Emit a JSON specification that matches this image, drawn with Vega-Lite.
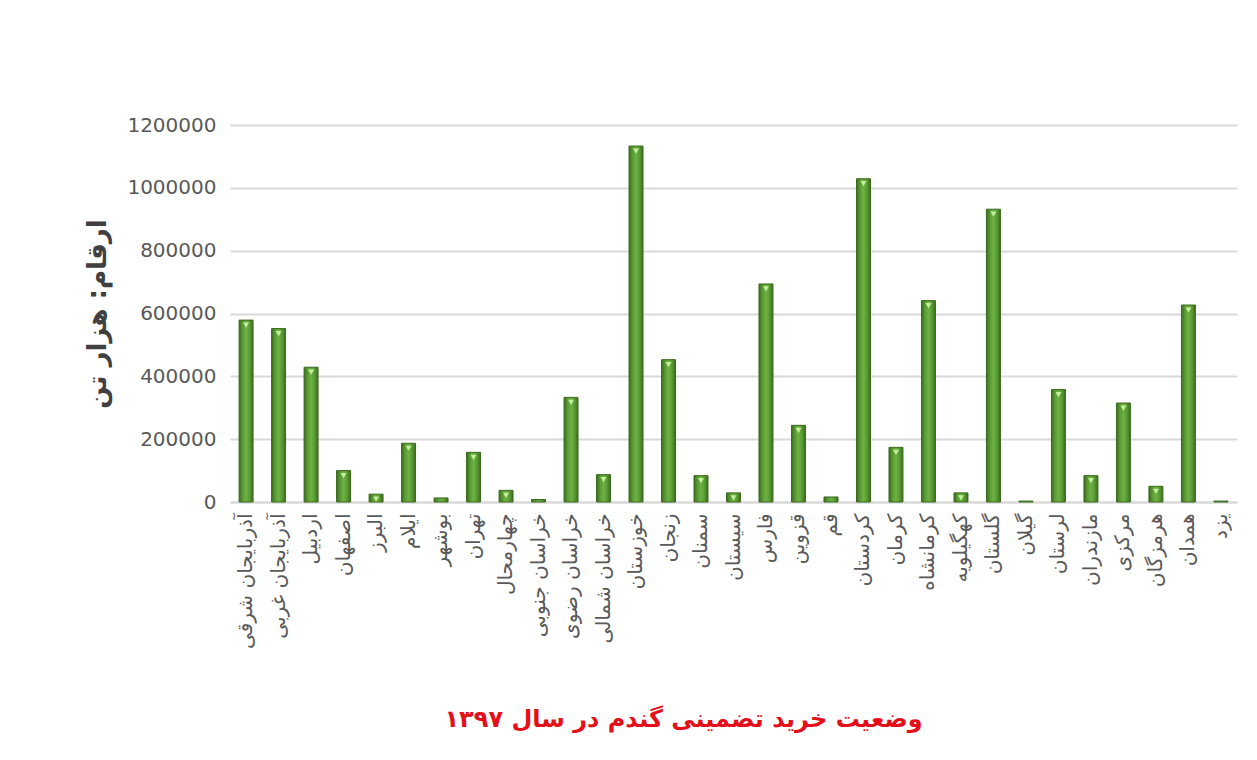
{
  "$schema": "https://vega.github.io/schema/vega-lite/v6.json",
  "autosize": {"type": "none"},
  "padding": {"left": 230, "top": 125, "right": 20, "bottom": 258},
  "width": 1007,
  "height": 377,
  "background": "white",
  "data": {
    "values": [
      {"province": "آذربایجان شرقی", "value": 579000},
      {"province": "آذربایجان غربی", "value": 552000},
      {"province": "اردبیل", "value": 429000},
      {"province": "اصفهان", "value": 100000},
      {"province": "البرز", "value": 25000},
      {"province": "ایلام", "value": 187000},
      {"province": "بوشهر", "value": 13000},
      {"province": "تهران", "value": 158000},
      {"province": "چهارمحال", "value": 37000},
      {"province": "خراسان جنوبی", "value": 8000},
      {"province": "خراسان رضوی", "value": 333000},
      {"province": "خراسان شمالی", "value": 87000},
      {"province": "خوزستان", "value": 1133000},
      {"province": "زنجان", "value": 453000},
      {"province": "سمنان", "value": 84000},
      {"province": "سیستان", "value": 29000},
      {"province": "فارس", "value": 694000},
      {"province": "قزوین", "value": 244000},
      {"province": "قم", "value": 16000},
      {"province": "کردستان", "value": 1029000},
      {"province": "کرمان", "value": 174000},
      {"province": "کرمانشاه", "value": 641000},
      {"province": "کهگیلویه", "value": 29000},
      {"province": "گلستان", "value": 932000},
      {"province": "گیلان", "value": 3000},
      {"province": "لرستان", "value": 358000},
      {"province": "مازندران", "value": 84000},
      {"province": "مرکزی", "value": 315000},
      {"province": "هرمزگان", "value": 50000},
      {"province": "همدان", "value": 627000},
      {"province": "یزد", "value": 3000}
    ]
  },
  "title": {
    "text": "وضعیت خرید تضمینی گندم در سال ۱۳۹۷",
    "orient": "bottom",
    "anchor": "middle",
    "dx": -50,
    "offset": 60,
    "font": "DejaVu Sans",
    "fontSize": 24,
    "fontWeight": "bold",
    "color": "#e3101a"
  },
  "encoding": {
    "x": {
      "field": "province",
      "type": "nominal",
      "sort": null,
      "scale": {"paddingInner": 0.57, "paddingOuter": 0.28},
      "axis": {
        "title": null,
        "labelAngle": -90,
        "labelFont": "DejaVu Sans",
        "labelFontSize": 20,
        "labelColor": "#595959",
        "labelPadding": 11,
        "ticks": false,
        "domainColor": "#d9d9d9",
        "domainWidth": 2,
        "labelLimit": 300
      }
    },
    "y": {
      "field": "value",
      "type": "quantitative",
      "scale": {"domain": [0, 1200000]},
      "axis": {
        "title": "ارقام: هزار تن",
        "titleFont": "DejaVu Sans",
        "titleFontSize": 26,
        "titleFontWeight": "bold",
        "titleColor": "#404040",
        "titlePadding": 16,
        "values": [0, 200000, 400000, 600000, 800000, 1000000, 1200000],
        "format": "d",
        "labelFont": "DejaVu Sans",
        "labelFontSize": 20,
        "labelColor": "#595959",
        "labelPadding": 14,
        "ticks": false,
        "domain": false,
        "gridColor": "#d9d9d9",
        "gridWidth": 2
      }
    }
  },
  "layer": [
    {
      "mark": {
        "type": "bar",
        "stroke": "#3a6a1e",
        "strokeWidth": 1,
        "fill": {
          "gradient": "linear",
          "x1": 0, "y1": 0, "x2": 1, "y2": 0,
          "stops": [
            {"offset": 0, "color": "#3b6d1f"},
            {"offset": 0.25, "color": "#5a9a34"},
            {"offset": 0.5, "color": "#6db244"},
            {"offset": 0.75, "color": "#5a9a34"},
            {"offset": 1, "color": "#3b6d1f"}
          ]
        }
      }
    },
    {
      "transform": [{"filter": "datum.value > 20000"}],
      "mark": {
        "type": "point",
        "shape": "triangle-down",
        "filled": true,
        "color": "#c4ee9c",
        "opacity": 1,
        "size": 36,
        "yOffset": 5
      }
    }
  ],
  "config": {"view": {"stroke": null}}
}
